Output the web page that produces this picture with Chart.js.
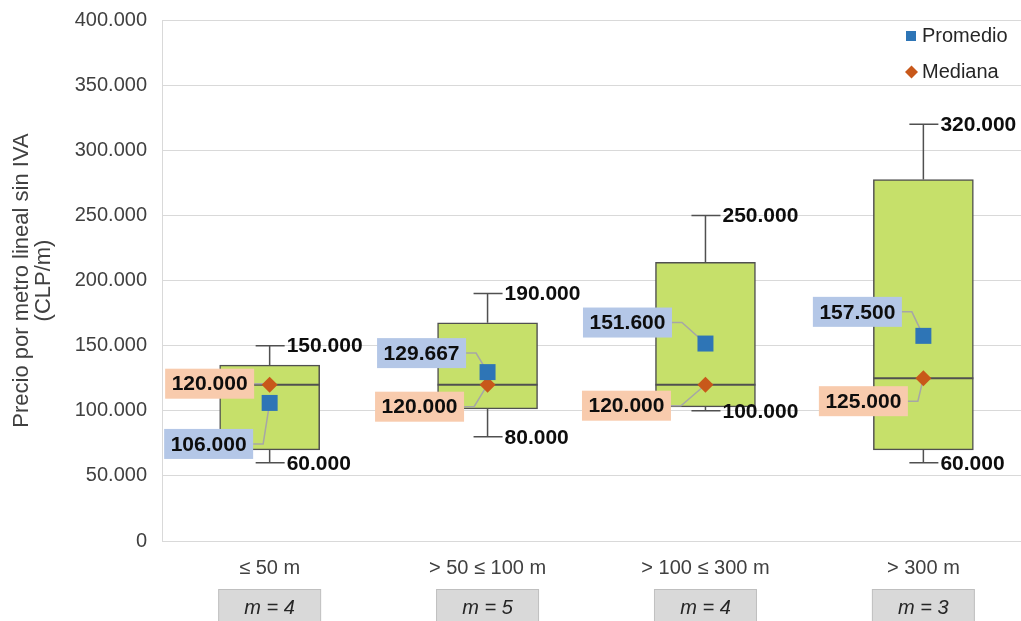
<!DOCTYPE html>
<html>
<head>
<meta charset="utf-8">
<script src="https://cdn.jsdelivr.net/npm/chart.js@4.4.1/dist/chart.umd.min.js"></script>
<style>
  html, body { margin: 0; padding: 0; background: #ffffff; overflow: hidden; }
  #wrap { position: relative; width: 1021px; height: 621px; }
  #chart { display: block; }
</style>
</head>
<body>
<div id="wrap"><canvas id="chart" width="1021" height="621"></canvas></div>
<script>
// Length classes and number of quotes in each
const categories = ['≤ 50 m', '> 50 ≤ 100 m', '> 100 ≤ 300 m', '> 300 m'];
const sampleSizes = [4, 5, 4, 3];

// Box-plot statistics per class (CLP/m)
const minValues = [60000, 80000, 100000, 60000];
const q1Values = [70000, 101500, 103000, 70000];
const medianValues = [120000, 120000, 120000, 125000];
const q3Values = [135000, 167500, 214000, 277500];
const maxValues = [150000, 190000, 250000, 320000];
const meanValues = [106000, 129667, 151600, 157500];

// Value axis
const yMin = 0;
const yMax = 400000;
const yStep = 50000;

// Class axis range (the last class runs past the right edge of the plot)
const xMin = -0.494;
const xMax = 3.448;

// Pixel offsets of the value callouts from their markers
const meanLabelShift = [[-61, 41], [-66, -19], [-78, -21], [-66, -24]];
const medianLabelShift = [[-60, -1], [-68, 22], [-79, 21], [-60, 23]];

const FONT = 'Liberation Sans, Arial, sans-serif';
const BOX_LINE = '#505050';
const MEAN_COLOR = '#2E75B6';
const MEDIAN_COLOR = '#C8581A';

function fmt(v) {
  return String(Math.round(v)).replace(/\B(?=(\d{3})+(?!\d))/g, '.');
}

const boxPlot = {
  id: 'boxPlot',
  beforeDatasetsDraw(chart) {
    // whiskers and caps
    const { ctx, scales: { x, y } } = chart;
    ctx.save();
    ctx.strokeStyle = BOX_LINE;
    ctx.lineWidth = 1.5;
    categories.forEach((c, i) => {
      const cx = x.getPixelForValue(i);
      const yTop = y.getPixelForValue(maxValues[i]);
      const yQ3 = y.getPixelForValue(q3Values[i]);
      const yQ1 = y.getPixelForValue(q1Values[i]);
      const yBot = y.getPixelForValue(minValues[i]);
      ctx.beginPath();
      ctx.moveTo(cx, yQ3); ctx.lineTo(cx, yTop);
      ctx.moveTo(cx, yQ1); ctx.lineTo(cx, yBot);
      ctx.moveTo(cx - 14, yTop); ctx.lineTo(cx + 15, yTop);
      ctx.moveTo(cx - 14, yBot); ctx.lineTo(cx + 15, yBot);
      ctx.stroke();
    });
    ctx.restore();
  },
  afterDatasetDraw(chart, args) {
    if (args.meta.type !== 'bar') return;
    const { ctx, scales: { x, y } } = chart;
    ctx.save();
    // median line across each box
    ctx.strokeStyle = BOX_LINE;
    ctx.lineWidth = 2;
    args.meta.data.forEach((bar, i) => {
      const ym = y.getPixelForValue(medianValues[i]);
      const half = bar.width / 2;
      ctx.beginPath();
      ctx.moveTo(bar.x - half, ym);
      ctx.lineTo(bar.x + half, ym);
      ctx.stroke();
    });
    // leader lines from callouts to markers
    ctx.strokeStyle = '#A6A6A6';
    ctx.lineWidth = 1.5;
    const leader = (values, shifts) => {
      values.forEach((v, i) => {
        const cx = x.getPixelForValue(i);
        const py = y.getPixelForValue(v);
        const lx = cx + shifts[i][0] + 44.5;
        const ly = py + shifts[i][1];
        ctx.beginPath();
        ctx.moveTo(lx, ly);
        ctx.lineTo(lx + 10, ly);
        ctx.lineTo(cx, py);
        ctx.stroke();
      });
    };
    leader(meanValues, meanLabelShift);
    leader(medianValues, medianLabelShift);
    ctx.restore();
  },
  afterDatasetsDraw(chart) {
    const { ctx, scales: { x, y } } = chart;
    ctx.save();
    ctx.font = 'bold 21px ' + FONT;
    ctx.textBaseline = 'middle';
    // whisker end values
    ctx.fillStyle = '#0D0D0D';
    ctx.textAlign = 'left';
    categories.forEach((c, i) => {
      const cx = x.getPixelForValue(i);
      ctx.fillText(fmt(maxValues[i]), cx + 17, y.getPixelForValue(maxValues[i]) + 1);
      ctx.fillText(fmt(minValues[i]), cx + 17, y.getPixelForValue(minValues[i]) + 1);
    });
    // mean and median callouts
    ctx.textAlign = 'center';
    const callout = (values, shifts, bg) => {
      values.forEach((v, i) => {
        const cx = x.getPixelForValue(i) + shifts[i][0];
        const cy = y.getPixelForValue(v) + shifts[i][1];
        ctx.fillStyle = bg;
        ctx.fillRect(cx - 44.5, cy - 15, 89, 30);
        ctx.fillStyle = '#0D0D0D';
        ctx.fillText(fmt(v), cx, cy + 1);
      });
    };
    callout(meanValues, meanLabelShift, '#B4C7E7');
    callout(medianValues, medianLabelShift, '#F8CBAD');
    ctx.restore();
  },
  afterDraw(chart) {
    const { ctx, scales: { x } } = chart;
    ctx.save();
    // sample size boxes under the class labels
    ctx.font = 'italic 20px ' + FONT;
    ctx.textAlign = 'center';
    ctx.textBaseline = 'middle';
    categories.forEach((c, i) => {
      const cx = x.getPixelForValue(i);
      ctx.fillStyle = '#D9D9D9';
      ctx.fillRect(cx - 51, 589.5, 102, 40);
      ctx.strokeStyle = '#BFBFBF';
      ctx.lineWidth = 1;
      ctx.strokeRect(cx - 51, 589.5, 102, 40);
      ctx.fillStyle = '#262626';
      ctx.fillText('m = ' + sampleSizes[i], cx, 608);
    });
    // legend
    ctx.font = '20px ' + FONT;
    ctx.textAlign = 'left';
    ctx.fillStyle = MEAN_COLOR;
    ctx.fillRect(906, 31, 10, 10);
    ctx.fillStyle = MEDIAN_COLOR;
    ctx.beginPath();
    ctx.moveTo(905, 72); ctx.lineTo(911.5, 65.5); ctx.lineTo(918, 72); ctx.lineTo(911.5, 78.5);
    ctx.closePath();
    ctx.fill();
    ctx.fillStyle = '#262626';
    ctx.fillText('Promedio', 922, 36);
    ctx.fillText('Mediana', 922, 72);
    ctx.restore();
  }
};

new Chart(document.getElementById('chart'), {
  type: 'bar',
  data: {
    datasets: [
      {
        type: 'bar',
        label: 'Rango intercuartil',
        data: categories.map((c, i) => ({ x: i, y: [q1Values[i], q3Values[i]] })),
        backgroundColor: '#C6E06A',
        borderColor: BOX_LINE,
        borderWidth: 1.5,
        borderSkipped: false,
        barThickness: 100,
        order: 3
      },
      {
        type: 'line',
        label: 'Promedio',
        data: meanValues.map((v, i) => ({ x: i, y: v })),
        showLine: false,
        pointStyle: 'rect',
        pointRadius: 11.3,
        pointHoverRadius: 11.3,
        pointBackgroundColor: MEAN_COLOR,
        pointBorderWidth: 0,
        order: 1
      },
      {
        type: 'line',
        label: 'Mediana',
        data: medianValues.map((v, i) => ({ x: i, y: v })),
        showLine: false,
        pointStyle: 'rectRot',
        pointRadius: 8,
        pointHoverRadius: 8,
        pointBackgroundColor: MEDIAN_COLOR,
        pointBorderWidth: 0,
        order: 2
      }
    ]
  },
  options: {
    responsive: false,
    animation: false,
    events: [],
    layout: { autoPadding: false, padding: { top: 20, right: 0, bottom: 0, left: 0 } },
    plugins: {
      legend: { display: false },
      tooltip: { enabled: false }
    },
    scales: {
      x: {
        type: 'linear',
        min: xMin,
        max: xMax,
        offset: false,
        grid: { display: false, drawTicks: false },
        border: { display: false },
        afterBuildTicks(scale) {
          scale.ticks = categories.map((c, i) => ({ value: i }));
        },
        ticks: {
          autoSkip: false,
          callback: (v) => categories[v],
          font: { family: FONT, size: 20 },
          color: '#404040',
          padding: 15,
          maxRotation: 0
        },
        afterFit(scale) {
          scale.height = 80;
          scale.paddingLeft = 0;
          scale.paddingRight = 0;
        }
      },
      y: {
        min: yMin,
        max: yMax,
        ticks: {
          stepSize: yStep,
          callback: (v) => fmt(v),
          font: { family: FONT, size: 20 },
          color: '#404040',
          padding: 15
        },
        grid: { color: '#D9D9D9', lineWidth: 1, drawTicks: false },
        border: { display: true, color: '#D9D9D9' },
        title: {
          display: true,
          text: ['Precio por metro lineal sin IVA', '(CLP/m)'],
          font: { family: FONT, size: 22, lineHeight: 1.0 },
          color: '#404040',
          padding: { top: 11, bottom: 0 }
        },
        afterFit(scale) {
          scale.width = 162;
          scale.paddingTop = 0;
          scale.paddingBottom = 0;
        }
      }
    }
  },
  plugins: [boxPlot]
});
</script>
</body>
</html>
